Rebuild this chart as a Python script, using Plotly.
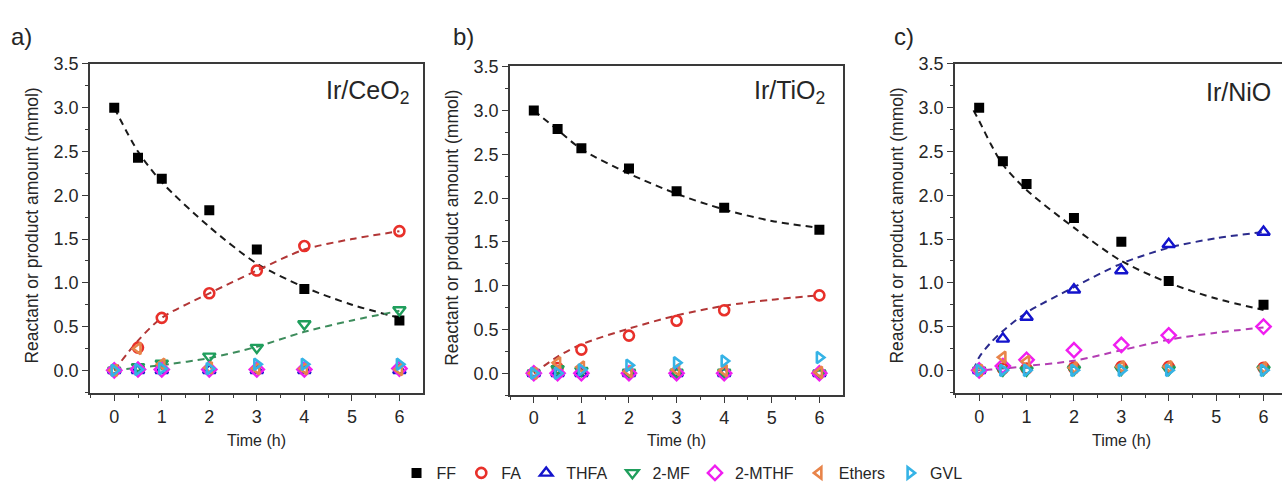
import plotly.graph_objects as go

W, H = 1282, 490

# ---------------- data ----------------
t = [0, 0.5, 1, 2, 3, 4, 6]
species = ["FF", "FA", "THFA", "2-MF", "2-MTHF", "Ethers", "GVL"]

# Ir/CeO2
a_FF = [3.00, 2.43, 2.19, 1.83, 1.38, 0.93, 0.57]
a_FA = [0.00, 0.26, 0.60, 0.88, 1.14, 1.42, 1.59]
a_THFA = [0.00, 0.00, 0.00, 0.00, 0.00, 0.00, 0.00]
a_MF = [0.00, 0.04, 0.08, 0.16, 0.26, 0.53, 0.69]
a_MTHF = [0.00, 0.01, 0.01, 0.01, 0.01, 0.01, 0.02]
a_Ethers = [0.00, 0.25, 0.07, 0.03, 0.02, 0.02, 0.01]
a_GVL = [0.00, 0.01, 0.02, 0.02, 0.07, 0.07, 0.07]

# Ir/TiO2
b_FF = [3.00, 2.79, 2.57, 2.34, 2.08, 1.89, 1.64]
b_FA = [0.00, 0.06, 0.27, 0.43, 0.60, 0.72, 0.89]
b_THFA = [0.00, 0.00, 0.00, 0.00, 0.00, 0.00, 0.00]
b_MF = [0.00, 0.05, 0.03, 0.01, 0.01, 0.01, 0.00]
b_MTHF = [0.00, 0.00, 0.00, 0.00, 0.00, 0.00, 0.00]
b_Ethers = [0.00, 0.12, 0.07, 0.02, 0.04, 0.03, 0.01]
b_GVL = [0.00, 0.00, 0.04, 0.09, 0.12, 0.14, 0.18]

# Ir/NiO
c_FF = [3.00, 2.39, 2.13, 1.74, 1.47, 1.02, 0.75]
c_FA = [0.00, 0.02, 0.02, 0.03, 0.04, 0.04, 0.03]
c_THFA = [0.00, 0.36, 0.61, 0.92, 1.14, 1.44, 1.58]
c_MF = [0.00, 0.00, 0.00, 0.01, 0.01, 0.01, 0.01]
c_MTHF = [0.00, 0.05, 0.12, 0.23, 0.29, 0.40, 0.50]
c_Ethers = [0.00, 0.15, 0.10, 0.03, 0.04, 0.04, 0.03]
c_GVL = [0.00, 0.00, 0.00, 0.00, 0.00, 0.00, 0.00]

# fitted (dashed) curves
fit_t = [0, 0.5, 1, 2, 3, 4, 5, 6]
a_FF_fit = [3.00, 2.50, 2.15, 1.64, 1.22, 0.95, 0.75, 0.60]
a_FA_fit = [0.00, 0.34, 0.60, 0.88, 1.14, 1.38, 1.50, 1.59]
a_MF_fit = [0.00, 0.03, 0.06, 0.14, 0.27, 0.44, 0.57, 0.68]
b_FF_fit = [3.00, 2.78, 2.56, 2.28, 2.05, 1.87, 1.74, 1.66]
b_FA_fit = [0.00, 0.19, 0.33, 0.51, 0.66, 0.77, 0.84, 0.89]
fit_tc = [-0.12, 0, 0.25, 0.5, 1, 2, 3, 4, 5, 6]
c_FF_fit = [2.97, 2.85, 2.58, 2.35, 2.06, 1.63, 1.25, 1.00, 0.82, 0.69]
c_THFA_fit = [0.00, 0.15, 0.32, 0.45, 0.66, 0.95, 1.22, 1.40, 1.51, 1.58]
c_MTHF_fit = [0.00, 0.00, 0.01, 0.02, 0.05, 0.11, 0.23, 0.35, 0.43, 0.49]

panel_names = ["Ir/CeO<sub>2</sub>", "Ir/TiO<sub>2</sub>", "Ir/NiO"]
panel_letters = ["a)", "b)", "c)"]
x_ticks = [0, 1, 2, 3, 4, 5, 6]
y_ticks = [0.0, 0.5, 1.0, 1.5, 2.0, 2.5, 3.0, 3.5]

# ---------------- styles ----------------
FONT = "Liberation Sans, Arial, sans-serif"
TXT = "#262626"
style = {
    "FF": dict(symbol="square", color="#000000", size=10, lw=0),
    "FA": dict(symbol="circle-open", color="#e8302a", size=10, lw=2.6),
    "THFA": dict(symbol="triangle-up-open", color="#1414cc", size=11, lw=2.4),
    "2-MF": dict(symbol="triangle-down-open", color="#1f9e5c", size=11, lw=2.4),
    "2-MTHF": dict(symbol="diamond-open", color="#f01ef0", size=11, lw=2.4),
    "Ethers": dict(symbol="triangle-left-open", color="#e8844a", size=10, lw=2.6),
    "GVL": dict(symbol="triangle-right-open", color="#35b3e6", size=10, lw=2.6),
}

panels = [
    dict(data=[a_FF, a_FA, a_THFA, a_MF, a_MTHF, a_Ethers, a_GVL],
         fits=[(fit_t, a_FF_fit, "#1a1a1a"), (fit_t, a_FA_fit, "#b23636"), (fit_t, a_MF_fit, "#3d8c5c")],
         xdom=(90, 422.7), ydom=(56.7, 398), yr=(-0.261, 3.503), xr=(-0.51, 6.49), right=True,
         label_x=411, letter_x=9),
    dict(data=[b_FF, b_FA, b_THFA, b_MF, b_MTHF, b_Ethers, b_GVL],
         fits=[(fit_t, b_FF_fit, "#1a1a1a"), (fit_t, b_FA_fit, "#b23636")],
         xdom=(510, 842.7), ydom=(59.3, 400), yr=(-0.25, 3.507), xr=(-0.5, 6.49), right=True,
         label_x=827, letter_x=451),
    dict(data=[c_FF, c_FA, c_THFA, c_MF, c_MTHF, c_Ethers, c_GVL],
         fits=[(fit_tc, c_FF_fit, "#1a1a1a"), (fit_tc, c_THFA_fit, "#2b2b8c"), (fit_tc, c_MTHF_fit, "#b33db3")],
         xdom=(955, 1282), ydom=(56.7, 398), yr=(-0.261, 3.503), xr=(-0.51, 6.39), right=False,
         label_x=1273, letter_x=892),
]

fig = go.Figure()
layout = {}
annotations = []

for i, p in enumerate(panels):
    n = "" if i == 0 else str(i + 1)
    xa, ya = "x" + n, "y" + n
    # fitted dashed curves
    for ft, fy, col in p["fits"]:
        fig.add_trace(go.Scatter(x=ft, y=fy, mode="lines", xaxis=xa, yaxis=ya,
                                 line=dict(color=col, width=2, dash="7px,5px", shape="spline", smoothing=0.8),
                                 showlegend=False, hoverinfo="skip"))
    # markers
    for sname, vals in zip(species, p["data"]):
        s = style[sname]
        fig.add_trace(go.Scatter(
            x=t, y=vals, mode="markers", xaxis=xa, yaxis=ya, name=sname,
            legendgroup=sname, showlegend=(i == 0),
            marker=dict(symbol=s["symbol"], size=s["size"], color=s["color"],
                        line=dict(color=s["color"], width=s["lw"]))))

    axis_common = dict(showline=True, linecolor="#3a3a3a", linewidth=1.5, ticks="outside",
                       ticklen=6, tickwidth=1.2, tickcolor="#3a3a3a", showgrid=False, zeroline=False,
                       tickfont=dict(family=FONT, size=18, color=TXT))
    layout["xaxis" + n] = dict(
        axis_common, domain=[p["xdom"][0] / W, p["xdom"][1] / W], range=list(p["xr"]),
        anchor=ya, tickvals=x_ticks, mirror=True,
        minor=dict(dtick=0.5, tick0=0, ticks="outside", ticklen=3.5, tickwidth=1, tickcolor="#3a3a3a"))
    layout["yaxis" + n] = dict(
        axis_common, domain=[1 - p["ydom"][1] / H, 1 - p["ydom"][0] / H], range=list(p["yr"]),
        anchor=xa, tickvals=y_ticks, tickformat=".1f", mirror=p["right"],
        minor=dict(dtick=0.25, tick0=0, ticks="outside", ticklen=3.5, tickwidth=1, tickcolor="#3a3a3a"))

    # catalyst label
    annotations.append(dict(text=panel_names[i], x=p["label_x"] / W, y=1 - 86 / H, xref="paper", yref="paper",
                            xanchor="right", yanchor="middle", showarrow=False,
                            font=dict(family=FONT, size=25, color=TXT)))
    # panel letter
    annotations.append(dict(text=panel_letters[i], x=p["letter_x"] / W, y=1 - 28 / H, xref="paper", yref="paper",
                            xanchor="left", yanchor="middle", showarrow=False,
                            font=dict(family=FONT, size=24, color=TXT)))
    # y title
    annotations.append(dict(text="Reactant or product amount (mmol)", x=(p["xdom"][0] - 58) / W,
                            y=1 - ((p["ydom"][0] + p["ydom"][1]) / 2 - 3) / H, xref="paper", yref="paper",
                            xanchor="center", yanchor="middle", textangle=-90, showarrow=False,
                            font=dict(family=FONT, size=17.5, color=TXT)))
    # x title, centred under the 0..6 span
    span = p["xdom"][1] - p["xdom"][0]
    x0 = p["xdom"][0] + (0 - p["xr"][0]) / (p["xr"][1] - p["xr"][0]) * span
    x6 = p["xdom"][0] + (6 - p["xr"][0]) / (p["xr"][1] - p["xr"][0]) * span
    annotations.append(dict(text="Time (h)", x=(x0 + x6) / 2 / W, y=1 - 447 / H, xref="paper", yref="paper",
                            xanchor="center", yanchor="middle", showarrow=False,
                            font=dict(family=FONT, size=16, color=TXT)))

fig.update_layout(
    **layout,
    width=W, height=H, margin=dict(l=0, r=0, t=0, b=0),
    paper_bgcolor="white", plot_bgcolor="white",
    annotations=annotations,
    showlegend=True,
    legend=dict(orientation="h", x=0.532, xanchor="center", y=1 - 481 / H, yanchor="middle",
                font=dict(family=FONT, size=16, color=TXT), itemwidth=30, tracegroupgap=0,
                bgcolor="rgba(0,0,0,0)"),
)

fig.write_html("out.html")
